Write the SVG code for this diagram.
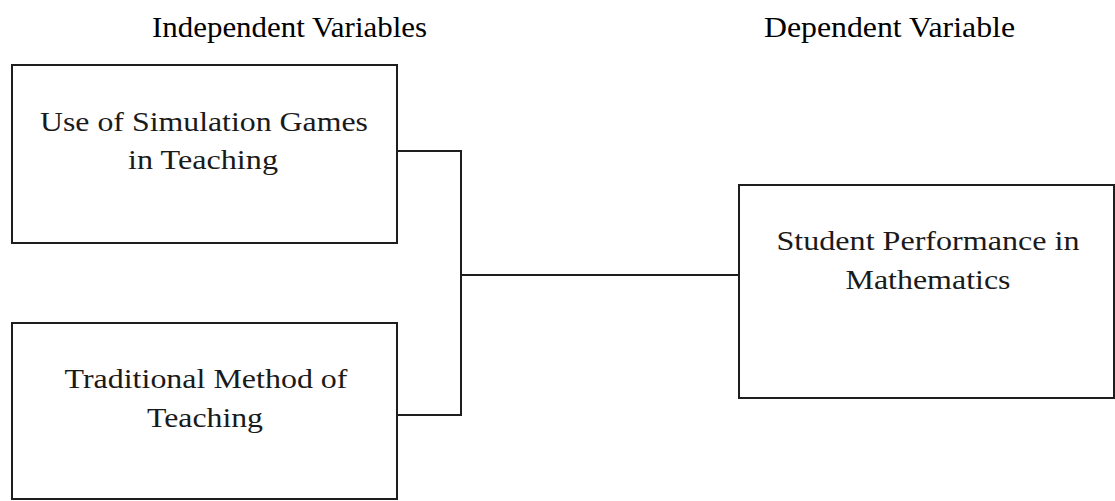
<svg xmlns="http://www.w3.org/2000/svg" width="1115" height="501" viewBox="0 0 1115 501">
<style>
.box{fill:#fff;stroke:#1e1e1e;stroke-width:2}
.lbl{font-family:"Liberation Serif","Times New Roman",serif;font-size:28px;fill:#1a1a1a;text-anchor:middle}
.ttl{font-family:"Liberation Serif","Times New Roman",serif;font-size:30px;fill:#000}
.con{fill:none;stroke:#1e1e1e;stroke-width:2}
</style>
<rect width="1115" height="501" fill="#fff"/>
<g id="titles">
<text class="ttl" x="152" y="37" textLength="275" lengthAdjust="spacingAndGlyphs">Independent Variables</text>
<text class="ttl" x="764" y="37" textLength="251" lengthAdjust="spacingAndGlyphs">Dependent Variable</text>
</g>
<g id="connectors">
<polyline class="con" points="397,151 461,151 461,415 397,415"/>
<line class="con" x1="461" y1="275" x2="739" y2="275"/>
</g>
<g id="node-simulation">
<rect class="box" x="12" y="65" width="385" height="178"/>
<text class="lbl" x="204" y="131" textLength="328" lengthAdjust="spacingAndGlyphs">Use of Simulation Games</text>
<text class="lbl" x="203" y="169" textLength="150" lengthAdjust="spacingAndGlyphs">in Teaching</text>
</g>
<g id="node-traditional">
<rect class="box" x="12" y="323" width="385" height="176"/>
<text class="lbl" x="206" y="388" textLength="283" lengthAdjust="spacingAndGlyphs">Traditional Method of</text>
<text class="lbl" x="205" y="427" textLength="116" lengthAdjust="spacingAndGlyphs">Teaching</text>
</g>
<g id="node-performance">
<rect class="box" x="739" y="185" width="375" height="213"/>
<text class="lbl" x="928" y="250" textLength="303" lengthAdjust="spacingAndGlyphs">Student Performance in</text>
<text class="lbl" x="928" y="289" textLength="165" lengthAdjust="spacingAndGlyphs">Mathematics</text>
</g>
</svg>
